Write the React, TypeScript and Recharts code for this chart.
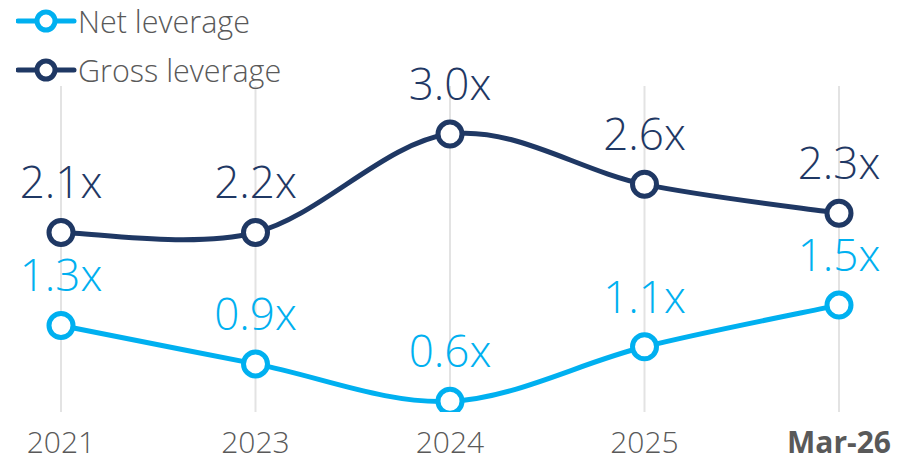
import React from "react";
import { LineChart, Line, XAxis, YAxis, CartesianGrid, Legend } from "recharts";

const periods = ["2021", "2023", "2024", "2025", "Mar-26"];
const netLeverage = [1.31, 0.95, 0.6, 1.11, 1.5];
const grossLeverage = [2.18, 2.18, 3.1, 2.63, 2.36];
const netLabels = ["1.3x", "0.9x", "0.6x", "1.1x", "1.5x"];
const grossLabels = ["2.1x", "2.2x", "3.0x", "2.6x", "2.3x"];

const NET = "#00b0f0";
const GROSS = "#1f3864";
const GREY = "#595959";
const FONT = "'Open Sans', 'DejaVu Sans', sans-serif";

const data = periods.map((p, i) => ({ period: p, net: netLeverage[i], gross: grossLeverage[i] }));

// smoothed line like the office charts (cardinal spline, tension 0)
const smoothCurve: any = (context: any) => {
  let pts: number[][] = [];
  return {
    areaStart() {},
    areaEnd() {},
    lineStart() {
      pts = [];
    },
    point(x: number, y: number) {
      pts.push([+x, +y]);
    },
    lineEnd() {
      if (!pts.length) return;
      context.moveTo(pts[0][0], pts[0][1]);
      for (let i = 0; i < pts.length - 1; i++) {
        const p0 = pts[i - 1] || pts[i];
        const p1 = pts[i];
        const p2 = pts[i + 1];
        const p3 = pts[i + 2] || p2;
        context.bezierCurveTo(
          p1[0] + (p2[0] - p0[0]) / 6,
          p1[1] + (p2[1] - p0[1]) / 6,
          p2[0] - (p3[0] - p1[0]) / 6,
          p2[1] - (p3[1] - p1[1]) / 6,
          p2[0],
          p2[1]
        );
      }
    },
  };
};

const makeLabel = (labels: string[], color: string) => (props: any) => {
  const { x, y, index } = props;
  return (
    <text
      key={`lbl-${color}-${index}`}
      x={x}
      y={y - 34}
      textAnchor="middle"
      fill={color}
      fontFamily={FONT}
      fontWeight={300}
      fontSize={44}
    >
      {labels[index]}
    </text>
  );
};

const PeriodTick = (props: any) => {
  const { x, y, payload } = props;
  const last = payload.value === "Mar-26";
  return (
    <text
      x={x}
      y={y + 33}
      textAnchor="middle"
      fill={GREY}
      fontFamily={FONT}
      fontWeight={last ? 700 : 300}
      fontSize={30}
    >
      {payload.value}
    </text>
  );
};

const LegendBox = () => {
  const rows = [
    { name: "Net leverage", color: NET },
    { name: "Gross leverage", color: GROSS },
  ];
  return (
    <div style={{ fontFamily: FONT, fontWeight: 300, fontSize: 30.5, color: GREY }}>
      {rows.map((r) => (
        <div key={r.name} style={{ display: "flex", alignItems: "center", height: 49 }}>
          <svg width={78} height={30} style={{ marginLeft: 16 }}>
            <line x1={2} y1={15} x2={58} y2={15} stroke={r.color} strokeWidth={5} strokeLinecap="round" />
            <circle cx={30} cy={15} r={9} fill="#fff" stroke={r.color} strokeWidth={5} />
          </svg>
          <span style={{ marginLeft: -16, whiteSpace: "nowrap" }}>{r.name}</span>
        </div>
      ))}
    </div>
  );
};

export default function App() {
  return (
    <div style={{ position: "absolute", left: 0, top: 0 }}>
      <LineChart width={910} height={462} data={data} margin={{ top: 86, right: 71, bottom: 20, left: 61 }}>
        <CartesianGrid horizontal={false} stroke="#e3e3e3" strokeWidth={2} />
        <XAxis dataKey="period" axisLine={false} tickLine={false} height={30} tick={<PeriodTick />} interval={0} />
        <YAxis hide domain={[0.5, 3.55]} allowDataOverflow />
        <Legend
          layout="vertical"
          align="center"
          verticalAlign="middle"
          content={<LegendBox />}
          wrapperStyle={{ top: -4, left: 0, width: "auto" }}
        />
        <Line
          dataKey="net"
          type={smoothCurve}
          stroke={NET}
          strokeWidth={5}
          dot={{ r: 12, fill: "#fff", stroke: NET, strokeWidth: 5 }}
          activeDot={false}
          label={makeLabel(netLabels, NET)}
          isAnimationActive={false}
        />
        <Line
          dataKey="gross"
          type={smoothCurve}
          stroke={GROSS}
          strokeWidth={5}
          dot={{ r: 12, fill: "#fff", stroke: GROSS, strokeWidth: 5 }}
          activeDot={false}
          label={makeLabel(grossLabels, GROSS)}
          isAnimationActive={false}
        />
      </LineChart>
    </div>
  );
}
